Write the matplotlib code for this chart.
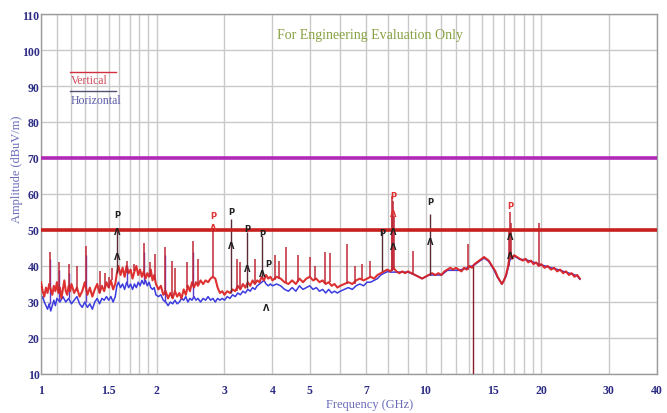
import matplotlib
matplotlib.use('Agg')
import matplotlib.pyplot as plt
from matplotlib.lines import Line2D
from matplotlib.ticker import NullFormatter

# ---------------- data ----------------
red_freq = [1.00, 1.01, 1.02, 1.03, 1.04, 1.05, 1.06, 1.07, 1.08, 1.09, 1.10, 1.11, 1.12, 1.13, 1.14,
            1.15, 1.16, 1.17, 1.18, 1.19, 1.20, 1.22, 1.24, 1.26, 1.28, 1.30, 1.32, 1.34, 1.36, 1.38,
            1.40, 1.42, 1.44, 1.46, 1.48, 1.50, 1.52, 1.54, 1.56, 1.575, 1.59, 1.61, 1.63, 1.65, 1.67,
            1.69, 1.71, 1.73, 1.75, 1.77, 1.79, 1.81, 1.83, 1.85, 1.87, 1.89, 1.91, 1.93, 1.95, 1.97,
            1.99, 2.02, 2.05, 2.08, 2.11, 2.14, 2.17, 2.20, 2.23, 2.26, 2.29, 2.32, 2.35, 2.38, 2.41,
            2.44, 2.47, 2.50, 2.53, 2.56, 2.60, 2.64, 2.68, 2.72, 2.76, 2.80, 2.84, 2.88, 2.92, 2.96,
            3.00, 3.05, 3.10, 3.15, 3.20, 3.25, 3.30, 3.35, 3.40, 3.45, 3.50, 3.55, 3.60, 3.65, 3.70,
            3.75, 3.80, 3.85, 3.90, 3.95, 4.00, 4.1, 4.2, 4.3, 4.4, 4.5, 4.6, 4.7, 4.8, 4.9,
            5.0, 5.1, 5.2, 5.3, 5.4, 5.5, 5.6, 5.7, 5.8, 5.9, 6.0, 6.15, 6.3, 6.45, 6.6,
            6.75, 6.9, 7.05, 7.2, 7.35, 7.5, 7.65, 7.8, 7.95, 8.1, 8.25, 8.4, 8.55, 8.7, 8.85,
            9.0, 9.2, 9.4, 9.6, 9.8, 10.0, 10.2, 10.4, 10.6, 10.8, 11.0, 11.2, 11.4, 11.6, 11.8,
            12.0, 12.2, 12.4, 12.6, 12.8, 13.0, 13.2, 13.4, 13.6, 13.8, 14.0, 14.2, 14.4, 14.6, 14.8,
            15.0, 15.2, 15.4, 15.6, 15.8, 16.0, 16.2, 16.4, 16.6, 16.8, 17.0, 17.3, 17.6, 17.9, 18.2,
            18.5, 18.8, 19.1, 19.4, 19.7, 20.0, 20.4, 20.8, 21.2, 21.6, 22.0, 22.4, 22.8, 23.2, 23.6,
            24.0, 24.4, 24.8, 25.2]
red_amp = [35.5, 33.0, 31.5, 34.0, 32.5, 35.0, 33.5, 32.0, 34.5, 33.0, 35.5, 32.5, 34.0, 31.0, 33.5,
           36.0, 33.0, 32.0, 34.5, 33.0, 35.0, 32.5, 34.0, 31.5, 33.0, 35.5, 32.0, 34.0, 31.5, 33.5,
           35.0, 32.5, 34.5, 33.0, 35.5, 34.0, 36.0, 33.5, 35.0, 38.0, 40.0, 37.5, 39.5, 37.0, 40.0,
           38.0, 39.0, 36.5, 38.5, 40.0, 37.5, 39.0, 37.0, 38.5, 36.5, 38.0, 37.0, 39.0, 36.0, 37.5,
           35.0, 33.5, 34.5, 32.0, 33.0, 31.0, 32.5, 31.0, 33.0, 31.5, 32.5, 31.0, 33.5, 32.0, 34.5,
           33.0, 35.5, 34.0, 35.5, 34.5, 36.0, 35.0, 36.0, 35.5, 36.5, 37.0, 36.5, 34.0, 32.5, 33.0,
           32.0, 33.0, 32.5, 33.5, 33.0, 34.5, 33.5, 35.0, 34.0, 35.5, 34.5, 36.0, 35.0, 36.0, 35.5,
           37.0, 36.0, 37.5, 36.5, 37.0, 36.0, 37.0, 36.5, 35.5, 35.0, 36.0, 35.0, 36.5, 35.5, 36.5,
           37.0, 36.0, 36.5, 35.5, 36.0, 35.0, 35.5, 34.5, 35.0, 34.0, 34.5, 35.0, 35.5, 35.0, 36.0,
           36.5, 36.0, 36.5, 37.0, 36.5, 37.5, 38.0, 38.5, 39.0, 38.5, 39.5, 38.5, 38.0, 38.5, 38.0,
           38.5, 38.0, 37.5, 37.0, 36.5, 37.0, 37.5, 38.0, 37.5, 38.0, 37.5, 38.5, 39.0, 39.5, 39.0,
           39.5, 39.0, 38.5, 39.5, 39.0, 40.0, 39.5, 40.5, 41.0, 41.5, 42.0, 42.5, 42.0, 41.5, 40.5,
           39.5, 38.5, 37.0, 36.0, 35.0, 36.0, 37.5, 40.0, 44.0, 42.0, 43.0, 42.5, 42.0, 41.5, 42.0,
           41.0, 41.5, 40.5, 41.0, 40.0, 40.5, 39.5, 40.0, 39.0, 39.5, 38.5, 39.0, 38.0, 38.5, 37.5,
           38.0, 37.0, 37.5, 36.5]

blue_freq = [1.00, 1.01, 1.02, 1.03, 1.04, 1.05, 1.06, 1.07, 1.08, 1.09, 1.10, 1.12, 1.14, 1.16, 1.18,
             1.20, 1.22, 1.24, 1.26, 1.28, 1.30, 1.32, 1.34, 1.36, 1.38, 1.40, 1.42, 1.44, 1.46, 1.48,
             1.50, 1.52, 1.54, 1.56, 1.575, 1.59, 1.61, 1.63, 1.65, 1.67, 1.69, 1.71, 1.73, 1.75, 1.77,
             1.79, 1.81, 1.83, 1.85, 1.87, 1.89, 1.91, 1.93, 1.95, 1.97, 1.99, 2.02, 2.05, 2.08, 2.11,
             2.14, 2.17, 2.20, 2.23, 2.26, 2.29, 2.32, 2.35, 2.38, 2.41, 2.44, 2.47, 2.50, 2.53, 2.56,
             2.60, 2.64, 2.68, 2.72, 2.76, 2.80, 2.84, 2.88, 2.92, 2.96, 3.00, 3.05, 3.10, 3.15, 3.20,
             3.25, 3.30, 3.35, 3.40, 3.45, 3.50, 3.55, 3.60, 3.65, 3.70, 3.75, 3.80, 3.85, 3.90, 3.95,
             4.0, 4.1, 4.2, 4.3, 4.4, 4.5, 4.6, 4.7, 4.8, 4.9, 5.0, 5.1, 5.2, 5.3, 5.4,
             5.5, 5.6, 5.7, 5.8, 5.9, 6.0, 6.15, 6.3, 6.45, 6.6, 6.75, 6.9, 7.05, 7.2, 7.35,
             7.5, 7.65, 7.8, 8.0, 8.1, 8.4, 8.7, 9.0, 9.4, 9.8, 10.2, 10.6, 11.0, 11.4, 11.8,
             12.2, 12.6, 13.0, 13.4, 13.8, 14.2, 14.6, 15.0, 15.4, 15.8, 16.2, 16.6, 17.0, 17.6, 18.2,
             18.8, 19.4, 20.0, 20.8, 21.6, 22.4, 23.2, 24.0, 24.8, 25.2]
blue_amp = [30.5, 31.5, 30.0, 29.0, 28.0, 29.5, 27.5, 29.0, 30.5, 29.0, 31.0, 30.0, 31.5, 30.0, 31.0,
            29.5, 30.5, 31.5, 29.5, 28.5, 30.0, 28.5, 29.5, 28.0, 30.0, 31.0, 29.5, 31.0, 30.5, 31.5,
            30.5, 31.5, 30.0, 31.5, 34.5, 35.5, 34.0, 35.0, 33.5, 35.5, 34.0, 35.0, 33.5, 35.0, 34.0,
            35.5, 34.5, 36.0, 35.0, 36.0, 34.5, 35.5, 34.0, 33.5, 34.0, 32.0, 31.5, 32.0, 30.5, 30.0,
            29.0, 30.0, 29.5, 30.5, 29.5, 30.0, 31.0, 30.5, 31.5, 30.0, 31.0, 30.5, 31.5, 30.5, 31.0,
            30.0, 31.0, 30.5, 31.5, 30.5, 31.0, 30.0, 31.0, 30.5, 31.0, 30.5, 31.5, 31.0, 32.0, 31.5,
            32.5, 32.0, 33.0, 32.5, 33.5, 33.0, 34.0, 33.5, 34.5, 35.0, 35.5, 36.0, 35.0, 34.5, 35.0,
            34.5, 35.0, 34.5, 33.5, 33.0, 34.0, 33.0, 34.5, 33.5, 34.0, 34.5, 33.5, 34.0, 33.0, 33.5,
            32.5, 33.5, 32.5, 33.0, 32.5, 33.0, 33.5, 34.0, 33.5, 34.5, 35.0, 34.5, 35.5, 35.5, 36.0,
            36.5, 37.5, 38.0, 38.5, 38.3, 38.3, 38.3, 38.3, 37.5, 36.5, 37.5, 37.5, 37.5, 38.8, 38.8,
            38.8, 39.2, 39.7, 40.3, 41.3, 42.2, 41.3, 39.3, 36.8, 35.0, 37.2, 41.8, 42.8, 41.8, 41.8,
            41.3, 40.8, 40.3, 39.8, 39.3, 38.8, 38.3, 37.8, 37.3, 36.3]

red_spike_freq = [1.053, 1.112, 1.18, 1.243, 1.311, 1.42, 1.47, 1.502, 1.53, 1.674, 1.75, 1.853, 1.92,
                  1.975, 2.10, 2.19, 2.23, 2.40, 2.49, 2.56, 2.80, 3.23, 3.30, 3.60, 4.06, 4.17, 4.34,
                  4.66, 5.01, 5.16, 5.48, 5.64, 6.24, 6.56, 6.83, 7.17, 8.17, 8.20, 8.23, 8.26, 9.28,
                  12.9, 16.5, 16.59, 16.7, 19.77]
red_spike_top = [44, 41, 40.5, 40, 45.5, 38.5, 38, 37, 39.5, 41.5, 40.5, 46.5, 41, 43.3, 45.3, 41.5,
                 39.5, 41, 47, 42, 50.5, 42, 41, 42, 43, 41.5, 45.3, 43, 42.5, 40, 44, 43.5, 46, 40,
                 40.5, 41.5, 55, 59.5, 58, 54, 44.3, 46, 50, 55, 52, 52]
red_spike_foot = [35, 32.5, 34, 33, 35, 32.5, 34, 34, 36, 38, 38.5, 38, 37, 36, 32, 31, 33, 34, 34.5,
                  35, 37, 33, 33.5, 35, 36, 36.5, 35.5, 35.5, 37, 36, 35, 35.5, 35, 35, 36.5, 37,
                  38.5, 38.5, 39, 39, 37.5, 39, 40, 42, 42, 40]

blue_spike_freq = [1.053, 1.112, 1.18, 1.311, 1.674, 1.853, 2.10, 2.49]
blue_spike_top = [42, 39, 38, 43, 40, 44, 43, 44]
blue_spike_foot = [29.5, 30.5, 31, 30, 35, 35, 30, 31]

mark_spike_freq = [1.577, 3.12, 3.43, 3.76, 7.71, 10.27]
mark_spike_top = [50, 53, 49.5, 48.4, 49.8, 54.4]
mark_spike_foot = [38, 32.5, 34, 37, 38.5, 37.5]

dip_freq = [13.27]
dip_top = [40]
dip_bottom = [10]

limit_levels = [70, 50]
limit_colors = ['#b02ab8', '#c8201e']

ann_freq = [1.577, 1.577, 1.577, 2.80, 2.80, 3.12, 3.12, 3.43, 3.43, 3.76, 3.76, 3.90, 3.86,
            7.71, 8.23, 8.23, 8.23, 8.23, 10.27, 10.27, 16.59, 16.59, 16.59]
ann_amp = [54.2, 49.7, 42.5, 53.9, 50.8, 55.0, 45.8, 50.3, 39.2, 48.9, 38.0, 40.8, 28.6,
           49.4, 59.5, 54.5, 49.5, 45.5, 58.0, 46.7, 56.7, 48.3, 42.8]
ann_text = ['P', 'Λ', 'Λ', 'P', 'Λ', 'P', 'Λ', 'P', 'Λ', 'P', 'Λ', 'P', 'Λ',
            'P', 'P', 'Λ', 'Λ', 'Λ', 'P', 'Λ', 'P', 'Λ', 'Λ']
ann_color = ['k', 'k', 'k', 'r', 'r', 'k', 'k', 'k', 'k', 'k', 'k', 'k', 'k',
             'k', 'r', 'r', 'k', 'k', 'k', 'k', 'r', 'k', 'k']

x_ticks = [1, 1.5, 2, 3, 4, 5, 7, 10, 15, 20, 30, 40]
x_tick_labels = ['1', '1.5', '2', '3', '4', '5', '7', '10', '15', '20', '30', '40']
x_minor = [1.1, 1.2, 1.3, 1.4, 1.6, 1.7, 1.8, 1.9, 6, 8, 9, 11, 12, 13, 14, 16, 17, 18, 19]
y_ticks = [10, 20, 30, 40, 50, 60, 70, 80, 90, 100, 110]

# ---------------- figure ----------------
fig = plt.figure(figsize=(6.67, 4.14), dpi=100)
ax = fig.add_axes([41 / 667, 39 / 414, 616 / 667, 360 / 414])
ax.set_xscale('log')
ax.set_xlim(1, 40)
ax.set_ylim(10, 110)

ax.set_xticks(x_ticks)
ax.set_xticklabels(x_tick_labels)
ax.set_xticks(x_minor, minor=True)
ax.xaxis.set_minor_formatter(NullFormatter())
ax.set_yticks(y_ticks)
ax.tick_params(axis='both', which='both', length=0)
ax.tick_params(axis='x', pad=7)
ax.tick_params(axis='y', pad=1)
for lab in ax.get_xticklabels() + ax.get_yticklabels():
    lab.set_fontfamily('Liberation Serif')
    lab.set_fontweight('bold')
    lab.set_fontsize(8.5)
    lab.set_color('#2c2c84')

ax.grid(True, which='both', axis='x', color='#c9c9c9', lw=1.0)
ax.grid(True, which='major', axis='y', color='#c9c9c9', lw=1.0)
ax.set_axisbelow(True)
for s in ax.spines.values():
    s.set_color('#9a9a9a')
    s.set_linewidth(1.0)

# traces
ax.plot(blue_freq, blue_amp, color='#3b3be0', lw=1.1, zorder=2)
ax.vlines(blue_spike_freq, blue_spike_foot, blue_spike_top, color='#5a3ad0', lw=1.0, zorder=2)
ax.plot(red_freq, red_amp, color='#dc2020', lw=1.5, alpha=0.92, zorder=3)
ax.vlines(red_spike_freq, red_spike_foot, red_spike_top, color='#c02838', lw=1.1, zorder=3)
ax.vlines(mark_spike_freq, mark_spike_foot, mark_spike_top, color='#5a2a36', lw=1.0, zorder=4)
ax.vlines(dip_freq, dip_bottom, dip_top, color='#8a1a2a', lw=1.0, zorder=3)

# limit lines
for lvl, c in zip(limit_levels, limit_colors):
    ax.axhline(lvl, color=c, lw=2.6, zorder=5)

# markers
for f, a, t, c in zip(ann_freq, ann_amp, ann_text, ann_color):
    col = '#202020' if c == 'k' else '#e03030'
    ax.text(f, a, t, ha='center', va='center', fontsize=6, fontweight='bold',
            color=col, family='DejaVu Sans', zorder=6)

# title
ax.text(7.17, 104.4, 'For Engineering Evaluation Only', ha='center', va='center',
        fontsize=10, color='#86a040', family='Liberation Serif', zorder=6)

# legend
ax.add_line(Line2D([0.047, 0.122], [0.839, 0.839], transform=ax.transAxes, color='#d03040', lw=1.0))
ax.text(0.0487, 0.817, 'Vertical', transform=ax.transAxes, ha='left', va='center',
        fontsize=8.5, color='#d04a5a', family='Liberation Serif')
ax.add_line(Line2D([0.047, 0.122], [0.786, 0.786], transform=ax.transAxes, color='#505070', lw=1.0))
ax.text(0.0487, 0.761, 'Horizontal', transform=ax.transAxes, ha='left', va='center',
        fontsize=8.5, color='#5a5aa8', family='Liberation Serif')

# axis labels
ax.set_ylabel('Amplitude (dBuV/m)', fontsize=9, color='#6a6ab8', family='Liberation Serif')
ax.yaxis.set_label_coords(-0.03, 0.57)
ax.set_xlabel('Frequency (GHz)', fontsize=9, color='#6a6ab8', family='Liberation Serif')
ax.xaxis.set_label_coords(0.533, -0.068)

fig.savefig('out.png', dpi=100)
